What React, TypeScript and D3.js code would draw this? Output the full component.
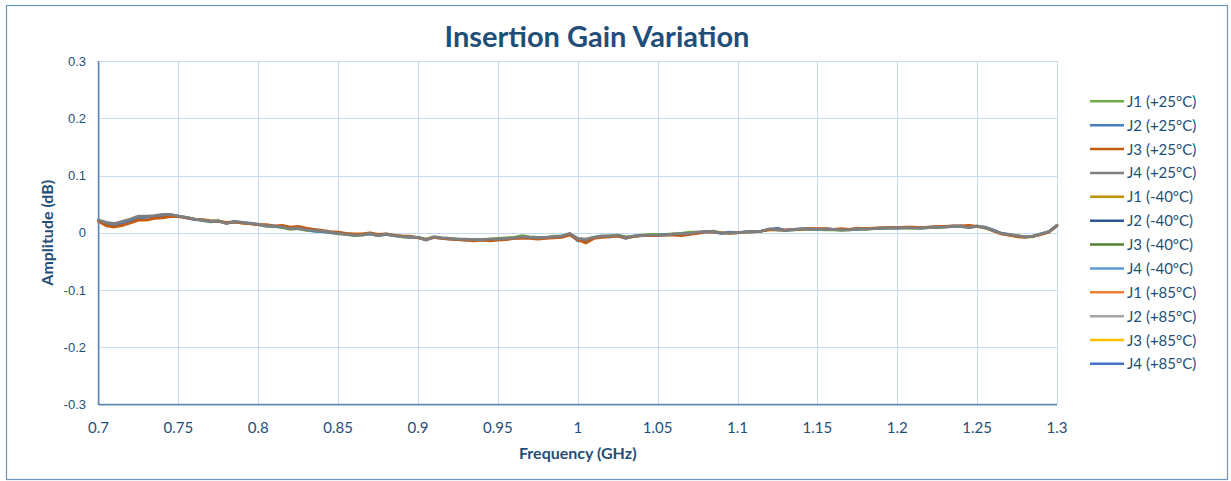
import { useEffect, useRef } from "react";
import * as d3 from "d3";

// sweep points (GHz)
const FREQ = [
  0.7, 0.705, 0.71, 0.715, 0.72, 0.725, 0.73, 0.735, 0.74, 0.745,
  0.75, 0.755, 0.76, 0.765, 0.77, 0.775, 0.78, 0.785, 0.79, 0.795,
  0.8, 0.805, 0.81, 0.815, 0.82, 0.825, 0.83, 0.835, 0.84, 0.845,
  0.85, 0.855, 0.86, 0.865, 0.87, 0.875, 0.88, 0.885, 0.89, 0.895,
  0.9, 0.905, 0.91, 0.915, 0.92, 0.925, 0.93, 0.935, 0.94, 0.945,
  0.95, 0.955, 0.96, 0.965, 0.97, 0.975, 0.98, 0.985, 0.99, 0.995,
  1.0, 1.005, 1.01, 1.015, 1.02, 1.025, 1.03, 1.035, 1.04, 1.045,
  1.05, 1.055, 1.06, 1.065, 1.07, 1.075, 1.08, 1.085, 1.09, 1.095,
  1.1, 1.105, 1.11, 1.115, 1.12, 1.125, 1.13, 1.135, 1.14, 1.145,
  1.15, 1.155, 1.16, 1.165, 1.17, 1.175, 1.18, 1.185, 1.19, 1.195,
  1.2, 1.205, 1.21, 1.215, 1.22, 1.225, 1.23, 1.235, 1.24, 1.245,
  1.25, 1.255, 1.26, 1.265, 1.27, 1.275, 1.28, 1.285, 1.29, 1.295,
  1.3,
];

const J1_25 = [
  0.021, 0.016, 0.015, 0.018, 0.022, 0.027, 0.028, 0.029, 0.031, 0.031,
  0.029, 0.027, 0.024, 0.021, 0.019, 0.021, 0.017, 0.019, 0.017, 0.016,
  0.014, 0.011, 0.011, 0.009, 0.006, 0.007, 0.004, 0.003, 0.002, 0.0,
  -0.002, -0.003, -0.005, -0.004, -0.002, -0.005, -0.003, -0.005, -0.007, -0.008,
  -0.008, -0.011, -0.007, -0.009, -0.01, -0.011, -0.012, -0.012, -0.012, -0.011,
  -0.01, -0.009, -0.008, -0.005, -0.007, -0.008, -0.008, -0.006, -0.006, -0.002,
  -0.011, -0.012, -0.008, -0.006, -0.005, -0.004, -0.007, -0.006, -0.004, -0.003,
  -0.003, -0.003, -0.002, -0.001, 0.001, 0.001, 0.002, 0.003, 0.0, 0.0,
  0.0, 0.001, 0.001, 0.003, 0.006, 0.005, 0.004, 0.005, 0.006, 0.006,
  0.006, 0.005, 0.005, 0.004, 0.005, 0.006, 0.006, 0.007, 0.007, 0.008,
  0.008, 0.008, 0.008, 0.008, 0.009, 0.009, 0.01, 0.011, 0.011, 0.009,
  0.011, 0.008, 0.004, -0.001, -0.004, -0.005, -0.007, -0.007, -0.003, 0.002,
  0.013,
];

const J2_25 = [
  0.021, 0.015, 0.013, 0.017, 0.021, 0.026, 0.027, 0.029, 0.03, 0.031,
  0.029, 0.026, 0.023, 0.022, 0.02, 0.02, 0.017, 0.019, 0.018, 0.016,
  0.014, 0.012, 0.011, 0.01, 0.008, 0.007, 0.006, 0.003, 0.002, 0.0,
  -0.001, -0.002, -0.004, -0.003, -0.002, -0.005, -0.003, -0.005, -0.006, -0.008,
  -0.008, -0.012, -0.008, -0.01, -0.011, -0.012, -0.013, -0.012, -0.013, -0.012,
  -0.011, -0.011, -0.01, -0.008, -0.009, -0.009, -0.008, -0.008, -0.006, -0.002,
  -0.014, -0.013, -0.008, -0.006, -0.007, -0.005, -0.01, -0.006, -0.005, -0.005,
  -0.004, -0.003, -0.003, -0.002, -0.002, 0.0, 0.002, 0.001, -0.001, 0.001,
  0.0, 0.002, 0.002, 0.003, 0.006, 0.008, 0.004, 0.005, 0.007, 0.007,
  0.006, 0.007, 0.006, 0.005, 0.006, 0.006, 0.007, 0.007, 0.008, 0.009,
  0.008, 0.009, 0.009, 0.008, 0.01, 0.01, 0.011, 0.011, 0.012, 0.01,
  0.011, 0.01, 0.005, -0.001, -0.003, -0.006, -0.007, -0.006, -0.002, 0.002,
  0.013,
];

const J3_25 = [
  0.02, 0.012, 0.01, 0.013, 0.017, 0.022, 0.022, 0.025, 0.026, 0.028,
  0.028, 0.026, 0.024, 0.023, 0.021, 0.02, 0.018, 0.019, 0.017, 0.016,
  0.014, 0.014, 0.012, 0.013, 0.01, 0.011, 0.008, 0.006, 0.004, 0.002,
  0.001, -0.001, -0.002, -0.002, 0.0, -0.003, -0.002, -0.004, -0.006, -0.006,
  -0.009, -0.012, -0.008, -0.01, -0.011, -0.012, -0.013, -0.014, -0.013, -0.014,
  -0.013, -0.012, -0.01, -0.01, -0.01, -0.011, -0.01, -0.009, -0.008, -0.004,
  -0.012, -0.018, -0.01, -0.008, -0.007, -0.006, -0.009, -0.007, -0.005, -0.005,
  -0.005, -0.004, -0.004, -0.005, -0.003, -0.001, 0.001, 0.001, 0.0, -0.001,
  0.0, 0.001, 0.002, 0.003, 0.005, 0.005, 0.005, 0.006, 0.006, 0.007,
  0.007, 0.007, 0.006, 0.007, 0.006, 0.008, 0.007, 0.008, 0.009, 0.009,
  0.009, 0.01, 0.01, 0.009, 0.01, 0.011, 0.011, 0.012, 0.012, 0.013,
  0.011, 0.009, 0.003, -0.002, -0.004, -0.007, -0.008, -0.006, -0.003, 0.001,
  0.012,
];

const J4_25 = [
  0.022, 0.018, 0.016, 0.02, 0.024, 0.029, 0.029, 0.03, 0.032, 0.032,
  0.029, 0.027, 0.024, 0.022, 0.02, 0.021, 0.016, 0.02, 0.018, 0.017,
  0.015, 0.012, 0.012, 0.01, 0.007, 0.008, 0.005, 0.004, 0.003, 0.001,
  -0.001, -0.003, -0.004, -0.004, -0.001, -0.005, -0.002, -0.005, -0.007, -0.007,
  -0.008, -0.013, -0.007, -0.009, -0.01, -0.011, -0.011, -0.012, -0.012, -0.011,
  -0.011, -0.01, -0.009, -0.007, -0.008, -0.009, -0.008, -0.007, -0.006, -0.001,
  -0.01, -0.011, -0.008, -0.006, -0.006, -0.004, -0.008, -0.006, -0.005, -0.004,
  -0.004, -0.004, -0.002, -0.002, -0.001, 0.001, 0.002, 0.002, -0.001, 0.0,
  0.0, 0.001, 0.002, 0.003, 0.007, 0.005, 0.004, 0.006, 0.007, 0.006,
  0.006, 0.006, 0.006, 0.005, 0.005, 0.007, 0.006, 0.007, 0.008, 0.008,
  0.008, 0.009, 0.008, 0.008, 0.009, 0.01, 0.01, 0.012, 0.011, 0.009,
  0.012, 0.009, 0.004, -0.001, -0.003, -0.005, -0.007, -0.006, -0.002, 0.002,
  0.013,
];

// these traces are in the legend but carry no points on the chart
const J1_M40: number[] = [];
const J2_M40: number[] = [];
const J3_M40: number[] = [];
const J4_M40: number[] = [];
const J1_85: number[] = [];
const J2_85: number[] = [];
const J3_85: number[] = [];
const J4_85: number[] = [];

const SERIES_NAMES = [
  "J1 (+25°C)", "J2 (+25°C)", "J3 (+25°C)", "J4 (+25°C)",
  "J1 (-40°C)", "J2 (-40°C)", "J3 (-40°C)", "J4 (-40°C)",
  "J1 (+85°C)", "J2 (+85°C)", "J3 (+85°C)", "J4 (+85°C)",
];
const SERIES_VALUES = [
  J1_25, J2_25, J3_25, J4_25,
  J1_M40, J2_M40, J3_M40, J4_M40,
  J1_85, J2_85, J3_85, J4_85,
];
const SERIES_COLORS = [
  "#70AD47", "#4A7EBB", "#C55A11", "#7F7F7F",
  "#BF9000", "#2F5597", "#548235", "#5B9BD5",
  "#ED7D31", "#A5A5A5", "#FFC000", "#4472C4",
];

const X_TICKS = [0.7, 0.75, 0.8, 0.85, 0.9, 0.95, 1, 1.05, 1.1, 1.15, 1.2, 1.25, 1.3];
const Y_TICKS = [-0.3, -0.2, -0.1, 0, 0.1, 0.2, 0.3];

const W = 1231;
const H = 481;
const TEXT = "#1F4E79";
const FONT = "Lato, 'Open Sans', sans-serif";

export default function App() {
  const ref = useRef<SVGSVGElement | null>(null);

  useEffect(() => {
    const svg = d3.select(ref.current);
    svg.selectAll("*").remove();

    const m = { l: 98.5, r: 1057, t: 61, b: 404.5 };
    const x = d3.scaleLinear().domain([0.7, 1.3]).range([m.l, m.r]);
    const y = d3.scaleLinear().domain([-0.3, 0.3]).range([m.b, m.t]);

    // chart frame
    svg.append("rect")
      .attr("x", 6.5).attr("y", 5.5)
      .attr("width", 1221).attr("height", 474)
      .attr("fill", "#fff")
      .attr("stroke", "#6f95ba")
      .attr("stroke-width", 1.2);

    // title
    svg.append("text")
      .attr("x", 597).attr("y", 47)
      .attr("text-anchor", "middle")
      .attr("font-family", FONT)
      .attr("font-weight", 700)
      .attr("font-size", 29)
      .attr("fill", TEXT)
      .text("Insertion Gain Variation");

    // gridlines
    const grid = svg.append("g").attr("stroke", "#c6dbee").attr("stroke-width", 1);
    X_TICKS.forEach((t) => {
      grid.append("line")
        .attr("x1", Math.round(x(t)) + 0.5).attr("x2", Math.round(x(t)) + 0.5)
        .attr("y1", m.t).attr("y2", m.b);
    });
    Y_TICKS.forEach((t) => {
      grid.append("line")
        .attr("x1", m.l).attr("x2", m.r)
        .attr("y1", Math.round(y(t)) + 0.5).attr("y2", Math.round(y(t)) + 0.5);
    });

    // axis lines
    svg.append("line")
      .attr("x1", m.l).attr("x2", m.l).attr("y1", m.t).attr("y2", m.b + 0.5)
      .attr("stroke", "#5f89b2").attr("stroke-width", 1.5);
    svg.append("line")
      .attr("x1", m.l).attr("x2", m.r).attr("y1", m.b).attr("y2", m.b)
      .attr("stroke", "#5f89b2").attr("stroke-width", 1.5);

    // tick labels
    Y_TICKS.forEach((t) => {
      svg.append("text")
        .attr("x", 86).attr("y", y(t) + 4.5)
        .attr("text-anchor", "end")
        .attr("font-family", "'Liberation Sans', Arial, sans-serif")
        .attr("font-size", 13)
        .attr("fill", TEXT)
        .text(String(t));
    });
    X_TICKS.forEach((t) => {
      svg.append("text")
        .attr("x", x(t)).attr("y", 433)
        .attr("text-anchor", "middle")
        .attr("font-family", FONT)
        .attr("font-size", 15)
        .attr("fill", TEXT)
        .text(String(t));
    });

    // axis titles
    svg.append("text")
      .attr("x", (m.l + m.r) / 2).attr("y", 459)
      .attr("text-anchor", "middle")
      .attr("font-family", FONT)
      .attr("font-weight", 700)
      .attr("font-size", 16)
      .attr("fill", TEXT)
      .text("Frequency (GHz)");
    svg.append("text")
      .attr("transform", `translate(53,${(m.t + m.b) / 2}) rotate(-90)`)
      .attr("text-anchor", "middle")
      .attr("font-family", FONT)
      .attr("font-weight", 700)
      .attr("font-size", 16)
      .attr("fill", TEXT)
      .text("Amplitude (dB)");

    // traces
    const line = d3.line<number>()
      .x((_, i) => x(FREQ[i]))
      .y((d) => y(d));
    SERIES_VALUES.forEach((vals, s) => {
      if (!vals.length) return;
      svg.append("path")
        .datum(vals)
        .attr("fill", "none")
        .attr("stroke", SERIES_COLORS[s])
        .attr("stroke-width", 2.75)
        .attr("stroke-linejoin", "round")
        .attr("stroke-linecap", "round")
        .attr("d", line);
    });

    // legend
    const lg = svg.append("g");
    SERIES_NAMES.forEach((name, i) => {
      const ry = 101.3 + i * 23.87;
      lg.append("line")
        .attr("x1", 1090).attr("x2", 1124)
        .attr("y1", ry).attr("y2", ry)
        .attr("stroke", SERIES_COLORS[i])
        .attr("stroke-width", 2.5);
      lg.append("text")
        .attr("x", 1127).attr("y", ry + 5.5)
        .attr("font-family", FONT)
        .attr("font-size", 15)
        .attr("fill", TEXT)
        .text(name);
    });
  }, []);

  return (
    <svg
      ref={ref}
      width={W}
      height={H}
      style={{ position: "absolute", left: 0, top: 0, display: "block" }}
    />
  );
}
